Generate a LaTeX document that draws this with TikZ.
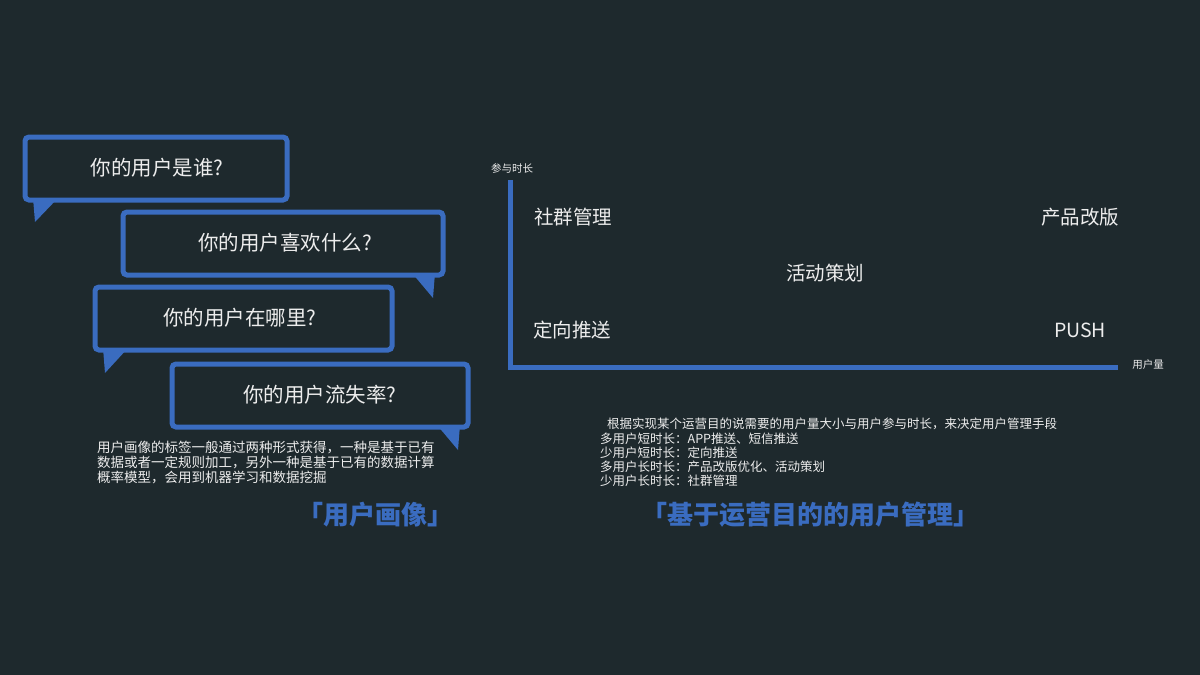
\documentclass[tikz,border=0pt]{standalone}
\usepackage{fontspec}
\setmainfont{Noto Sans CJK SC}
\definecolor{bg}{HTML}{1E292D}
\definecolor{bl}{HTML}{3A6CC0}
\definecolor{tx}{HTML}{EDEDED}
\begin{document}
\begin{tikzpicture}[x=1pt,y=-1pt,
  bub/.style={draw=bl,line width=5pt,rounded corners=4pt},
  tl/.style={fill=bl},
  q/.style={text=tx,font=\fontsize{20.5}{22}\selectfont},
  lab/.style={text=tx,font=\fontsize{19.5}{21}\selectfont},
  sm/.style={text=tx,font=\fontsize{13.5}{15}\selectfont,align=left,anchor=north west,inner sep=0pt},
  ttl/.style={text=bl,font=\fontsize{26}{28}\selectfont\bfseries}]
\fill[bg] (0,0) rectangle (1200,675);
\useasboundingbox (0,0) rectangle (1200,675);
% bubbles
\fill[tl] (33,198)--(35,222)--(58,198)--cycle;
\draw[bub] (25,137) rectangle (287,200);
\node[q] (q1) at (157,168) {你的用户是谁?};
\fill[tl] (412,273)--(433,298)--(435,273)--cycle;
\draw[bub] (123,212) rectangle (443,275);
\node[q] (q2) at (285,243) {你的用户喜欢什么?};
\fill[tl] (103,348)--(105,373)--(128,348)--cycle;
\draw[bub] (95,287) rectangle (392,350);
\node[q] (q3) at (240,318) {你的用户在哪里?};
\fill[tl] (437,425)--(458,450)--(460,425)--cycle;
\draw[bub] (172,364) rectangle (468,427);
\node[q] (q4) at (320,395) {你的用户流失率?};
\node[sm] (p1) at (97,441) {用户画像的标签一般通过两种形式获得，一种是基于已有\\数据或者一定规则加工，另外一种是基于已有的数据计算\\概率模型，会用到机器学习和数据挖掘};
\node[ttl] (t1) at (375,515) {「用户画像」};
% axes
\coordinate (top) at (510,180);
\coordinate (org) at (510,367);
\coordinate (rt) at (1118,367);
\draw[bl,line width=5pt] (top)--(org)--(rt);
\node[text=tx,font=\fontsize{10.5}{12}\selectfont] (ya) at (512,168) {参与时长};
\node[text=tx,font=\fontsize{10.5}{12}\selectfont] (xa) at (1148,365) {用户量};
\node[lab] (a1) at (573,217) {社群管理};
\node[lab] (a2) at (1080,217) {产品改版};
\node[lab] (a3) at (825,273) {活动策划};
\node[lab] (a4) at (572,330) {定向推送};
\node[lab] (a5) at (1080,330) {PUSH};
\node[sm,font=\fontsize{12.5}{14}\selectfont] (p2) at (607,418) {根据实现某个运营目的说需要的用户量大小与用户参与时长，来决定用户管理手段};
\node[sm,font=\fontsize{12.5}{14}\selectfont] (p3) at (600,433) {多用户短时长：APP推送、短信推送\\少用户短时长：定向推送\\多用户长时长：产品改版优化、活动策划\\少用户长时长：社群管理};
\node[ttl] (t2) at (810,515) {「基于运营目的的用户管理」};
\end{tikzpicture}
\end{document}
